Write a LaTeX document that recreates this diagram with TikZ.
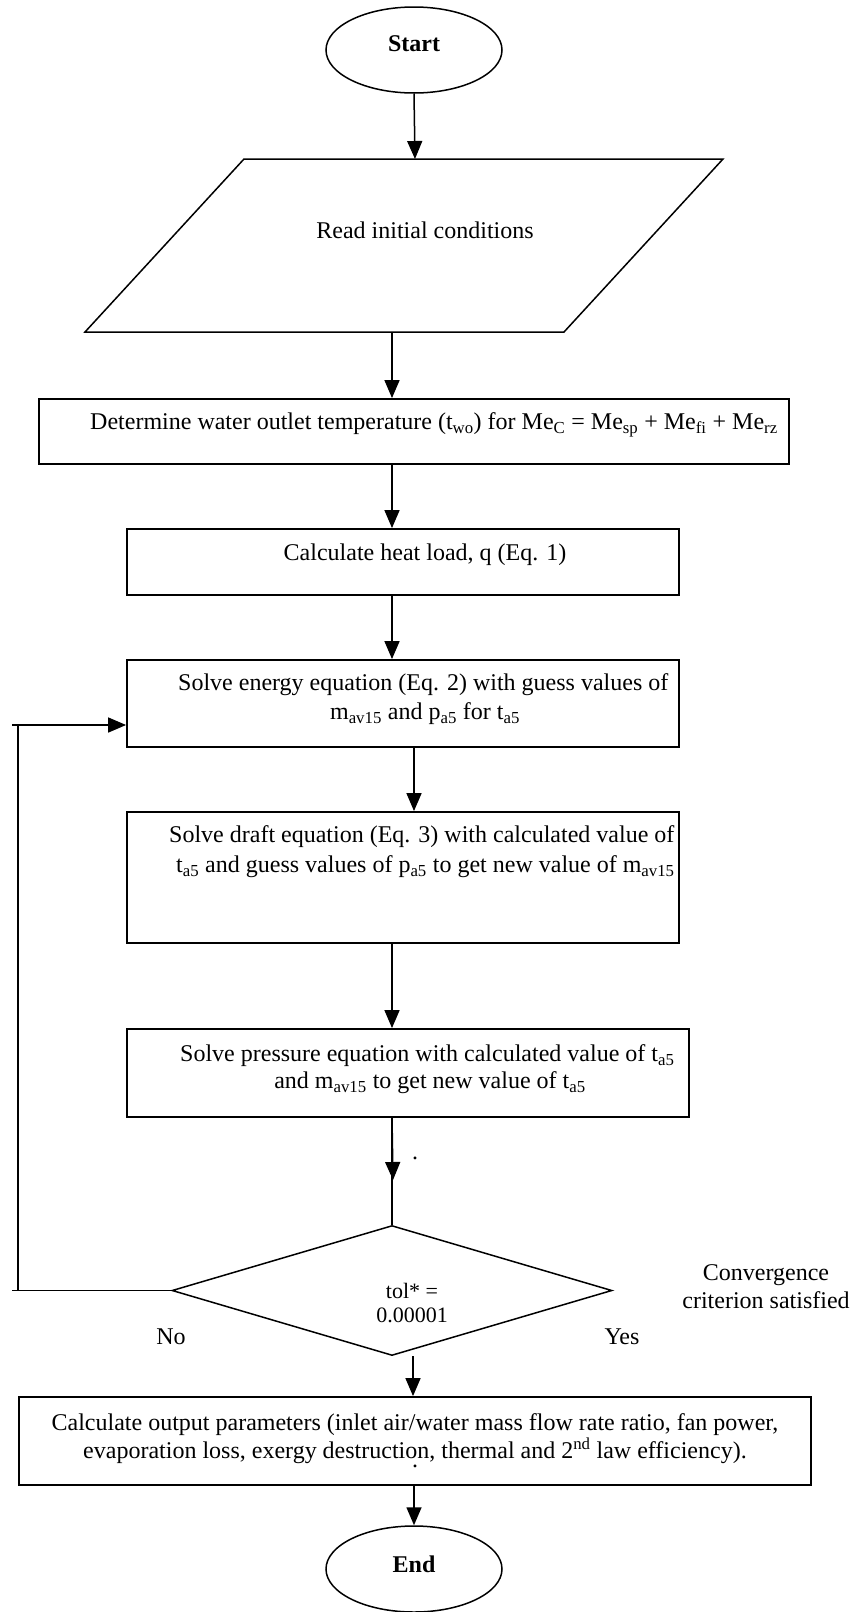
\documentclass[tikz,border=0pt]{standalone}
\usepackage{fontspec}
\setmainfont{Liberation Serif}
\usetikzlibrary{shapes.geometric,arrows.meta}
\begin{document}
\begin{tikzpicture}[x=1pt,y=-1pt,
  box/.style={draw, line width=1.8pt, rectangle, inner sep=0pt},
  term/.style={draw, line width=1.5pt, ellipse, inner sep=0pt, minimum width=176pt, minimum height=86pt},
  conn/.style={line width=1.5pt},
  arr/.style={line width=1.5pt, -{Triangle[length=18pt,width=15pt]}},
  txt/.style={font=\fontsize{24}{28}\selectfont, inner sep=0pt},
  small/.style={font=\fontsize{22}{24}\selectfont, inner sep=0pt},
  ttl/.style={font=\fontsize{24}{28}\selectfont\bfseries, inner sep=0pt}]
\useasboundingbox (0,0) rectangle (852,1612);

% terminals
\node[term] (start) at (414,50) {};
\node[ttl] (starttxt) at (414,44) {Start};
\node[term] (end) at (414,1569) {};
\node[ttl] (endtxt) at (414,1564) {End};

% input parallelogram
\draw[line width=1.5pt] (244,159) -- (723,159) -- (564,332) -- (85,332) -- cycle;
\coordinate (paraT) at (415,159);
\coordinate (paraB) at (392,332);
\node[txt] (read) at (425,230) {Read initial conditions};

% process boxes
\node[box, minimum width=750pt, minimum height=65pt] (box1) at (414,431.5) {};
\node[txt, anchor=west] (t1) at (90,425) {Determine water outlet temperature (t\textsubscript{wo}) for Me\textsubscript{C} = Me\textsubscript{sp} + Me\textsubscript{fi} + Me\textsubscript{rz}};

\node[box, minimum width=552pt, minimum height=66pt] (box2) at (403,562) {};
\node[txt] (t2) at (425,555) {Calculate heat load, q (Eq. 1)};

\node[box, minimum width=552pt, minimum height=87pt] (box3) at (403,703.5) {};
\node[txt, anchor=west] (t3a) at (178,685) {Solve energy equation (Eq. 2) with guess values of};
\node[txt] (t3b) at (425,714) {m\textsubscript{av15} and p\textsubscript{a5} for t\textsubscript{a5}};

\node[box, minimum width=552pt, minimum height=131pt] (box4) at (403,877.5) {};
\node[txt, anchor=west] (t4a) at (169,837) {Solve draft equation (Eq. 3) with calculated value of};
\node[txt, anchor=west] (t4b) at (176,867) {t\textsubscript{a5} and guess values of p\textsubscript{a5} to get new value of m\textsubscript{av15}};

\node[box, minimum width=562pt, minimum height=88pt] (box5) at (408,1073) {};
\node[txt, anchor=west] (t5a) at (180,1056) {Solve pressure equation with calculated value of t\textsubscript{a5}};
\node[txt] (t5b) at (430,1083) {and m\textsubscript{av15} to get new value of t\textsubscript{a5}};

% decision
\node[draw, diamond, line width=1.5pt, minimum width=440pt, minimum height=130pt, inner sep=0pt] (dec) at (392,1290.5) {};
\node[small] (d1) at (412,1291) {tol* =};
\node[small] (d2) at (412,1315) {0.00001};
\node[txt] (no) at (171,1337) {No};
\node[txt] (yes) at (622,1337) {Yes};
\node[txt, align=center] (conv) at (766,1287) {Convergence\\criterion satisfied};
\node[txt] (dot1) at (415,1158) {.};

\node[box, minimum width=792pt, minimum height=88pt] (box6) at (415,1441) {};
\node[txt, align=center] (t6) at (415,1439) {Calculate output parameters (inlet air/water mass flow rate ratio, fan power,\\evaporation loss, exergy destruction, thermal and 2\textsuperscript{nd} law efficiency).};
\node[txt] (dot2) at (415,1466) {.};

% connectors
\draw[arr] (start.south) -- (paraT);
\draw[arr] (paraB) -- (paraB |- box1.north);
\draw[arr] (box1.south -| paraB) -- (box2.north -| paraB);
\draw[arr] (box2.south -| paraB) -- (box3.north -| paraB);
\draw[arr] (box3.south -| start) -- (box4.north -| start);
\draw[arr] (box4.south -| paraB) -- (box5.north -| paraB);
\coordinate (mid) at (393,1180);
\draw[conn] (box5.south -| paraB) -- (dec.north);
\draw[arr] (box5.south -| paraB) -- (mid);

% feedback loop
\coordinate (nb) at (12,1290.5);
\coordinate (vb) at (18,1290.5);
\coordinate (vt) at (18,725);
\coordinate (nt) at (12,725);
\draw[conn] (dec.west) -- (nb);
\draw[conn] (vb) -- (vt);
\draw[arr] (nt) -- (box3.west |- nt);

% yes branch
\coordinate (yesS) at (413,1356);
\draw[arr] (yesS) -- (box6.north -| yesS);
\draw[arr] (box6.south -| start) -- (end.north);
\end{tikzpicture}
\end{document}
